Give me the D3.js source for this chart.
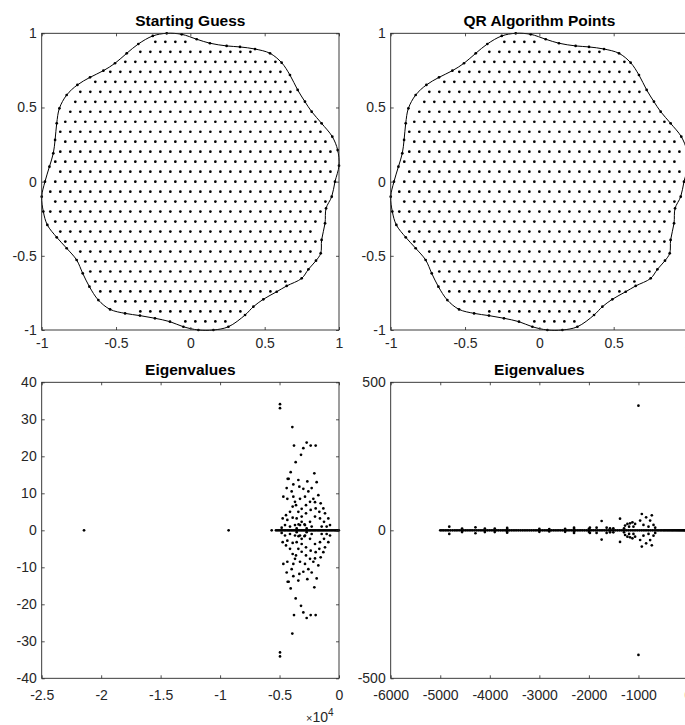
<!DOCTYPE html>
<html>
<head>
<meta charset="utf-8">
<script src="https://cdn.jsdelivr.net/npm/d3@7"></script>
<style>
  body { margin: 0; background: #fff; }
  svg { display: block; }
  text { font-family: "Liberation Sans", Arial, Helvetica, sans-serif; }
</style>
</head>
<body>
<svg id="fig" width="685" height="725"></svg>
<script>
// ---- Domain boundary (closed curve), listed counter-clockwise from the top ----
const boundaryPts = [
  [-0.159,1.0],[-0.253,0.982],[-0.35,0.928],[-0.428,0.865],[-0.507,0.798],[-0.585,0.748],
  [-0.675,0.703],[-0.76,0.652],[-0.832,0.584],[-0.881,0.494],[-0.899,0.393],[-0.91,0.281],
  [-0.922,0.191],[-0.948,0.101],[-0.978,0.0],[-1.0,-0.101],[-0.989,-0.202],[-0.962,-0.292],
  [-0.899,-0.375],[-0.832,-0.449],[-0.765,-0.528],[-0.724,-0.618],[-0.679,-0.708],[-0.619,-0.798],
  [-0.54,-0.861],[-0.439,-0.888],[-0.339,-0.903],[-0.238,-0.921],[-0.137,-0.944],[-0.047,-0.978],
  [0.054,-1.0],[0.155,-1.0],[0.256,-0.978],[0.368,-0.899],[0.424,-0.843],[0.491,-0.793],
  [0.581,-0.742],[0.648,-0.703],[0.749,-0.652],[0.794,-0.591],[0.845,-0.533],[0.877,-0.483],
  [0.883,-0.393],[0.906,-0.281],[0.913,-0.18],[0.951,-0.101],[0.973,0.0],[1.0,0.108],
  [0.991,0.213],[0.955,0.303],[0.883,0.393],[0.816,0.472],[0.771,0.539],[0.722,0.618],
  [0.67,0.719],[0.614,0.802],[0.536,0.865],[0.435,0.894],[0.334,0.908],[0.244,0.915],
  [0.132,0.933],[0.043,0.96],[-0.058,0.993]
];

// ---- Interior node lattice (staggered rows) ----
const latticeStep = 0.0673;   // spacing between nodes in a row and between rows
const latticeRows = d3.range(-15, 16);   // row indices, row 0 at y = 0
const latticeMargin = 0.022;  // nodes closer than this to the boundary are dropped

// ---- Eigenvalues of the starting-guess operator ----
const leftIsolated = [-21440, -9280, -5660];
const leftReal = [-5300,-5185,-5060,-4950,-4835,-4720,-4600,-4495,-4370,-4260,-4150,-4030,
  -3925,-3810,-3700,-3590,-3480,-3370,-3265,-3150,-3040,-2935,-2820,-2710,-2600,-2490,-2385,
  -2270,-2160,-2050,-1945,-1830,-1720,-1610,-1505,-1390,-1280,-1170,-1065,-950,-840,-735,
  -620,-510,-400,-300,-210,-130,-60,-15];
// complex eigenvalues with positive imaginary part; their conjugates are drawn too
const leftComplex = [
  [-4961,34.1],[-4961,33.0],[-3924,27.9],[-3784,22.9],[-3643,18.4],[-3195,20.4],[-2999,22.2],
  [-2719,23.7],[-2382,22.9],[-1962,22.9],[-4064,15.7],[-4316,13.9],[-4232,13.9],[-2074,15.4],
  [-1878,13.0],[-2663,13.2],[-2999,11.2],[-3335,11.8],[-3840,12.4],[-3419,13.6],[-4400,11.4],
  [-3980,10.5],[-4680,9.1],[-4344,8.5],[-3840,9.1],[-3700,7.7],[-3896,6.4],[-3615,6.8],
  [-3279,8.5],[-2859,9.1],[-2578,10.5],[-2298,11.4],[-2158,8.5],[-1738,9.5],[-1541,7.3],
  [-2018,7.6],[-2438,7.7],[-2775,6.8],[-3139,5.8],[-3419,5.0],[-4120,5.0],[-4456,4.1],
  [-4736,3.2],[-4344,2.8],[-3896,3.4],[-3559,3.2],[-3139,3.7],[-2775,4.6],[-2382,5.5],
  [-1962,5.9],[-1654,5.0],[-1317,5.9],[-1177,4.6],[-897,3.2],[-757,1.4],[-1261,2.3],
  [-1598,3.2],[-2018,3.7],[-2438,2.3],[-2859,1.4],[-3279,1.4],[-3700,1.4],[-4120,1.0],
  [-4540,1.4],[-4821,0.7],[-1457,1.0],[-1037,1.0],[-2298,1.0],
  [-3139,2.3],[-3400,1.6],[-2900,1.6],[-3560,0.5],[-2720,0.5]
];

// ---- Eigenvalues of the QR-point operator ----
const rightReal = [-5000,-4966,-4933,-4899,-4864,-4830,-4793,-4754,-4716,-4680,-4643,-4605,
  -4568,-4530,-4494,-4457,-4418,-4381,-4344,-4306,-4270,-4233,-4195,-4158,-4121,-4083,-4047,
  -4010,-3972,-3935,-3898,-3860,-3825,-3787,-3750,-3713,-3676,-3640,-3603,-3566,-3529,-3492,
  -3455,-3418,-3381,-3344,-3307,-3270,-3233,-3196,-3160,-3122,-3085,-3049,-3012,-2975,-2938,
  -2901,-2864,-2828,-2790,-2753,-2716,-2680,-2643,-2606,-2569,-2532,-2495,-2458,-2421,-2384,
  -2347,-2310,-2273,-2236,-2199,-2162,-2125,-2088,-2051,-2014,-1977,-1940,-1903,-1866,-1829,
  -1792,-1755,-1718,-1681,-1644,-1607,-1570,-1533,-1496,-1459,-1422,-1385,-1348,-1311,-1274,
  -1237,-1200,-1163,-1126,-1089,-1052,-1015,-978,-941,-904,-867,-830,-793,-756,-719,-682,
  -650,-620,-590,-560,-530,-500,-472,-445,-418,-390,-364,-338,-312,-287,-262,-238,-214,-190,
  -168,-146,-124,-103,-83,-64,-46,-30,-15,-5];
const rightComplex = [
  [-1000,421],[-1743,31.5],[-1372,39.4],[-932,55],[-730,50.7],[-845,44],[-764,33],
  [-1270,15.8],[-1223,21.4],[-1169,23.6],[-1122,27],[-1068,21.4],[-966,32.7],[-899,18],
  [-797,12.4],[-696,18],[-662,9],[-1101,12.4],[-1189,12.4],[-1291,6.8],[-1642,9],[-1574,6.8],
  [-1507,6.8],[-1845,9],[-1980,9],
  [-4818,12.4],[-4560,6],[-4290,10],[-4100,6],[-3900,6],[-3650,8],[-3650,4],[-3000,5],
  [-2800,4],[-2480,5],[-2300,9],[-2300,4],[-2000,5]
];

// ---- Axis ticks ----
const unitTicks = [-1, -0.5, 0, 0.5, 1];
const leftXTicks = [-25000, -20000, -15000, -10000, -5000, 0];
const leftYTicks = [-40, -30, -20, -10, 0, 10, 20, 30, 40];
const rightXTicks = [-6000, -5000, -4000, -3000, -2000, -1000, 0];
const rightYTicks = [-500, 0, 500];

const ink = "#262626";
const dotR = 1.35;
const svg = d3.select("#fig");
const plain = v => String(+v.toFixed(6));

function panel(o) {
  const xs = d3.scaleLinear().domain(o.xDomain).range([o.left, o.right]);
  const ys = d3.scaleLinear().domain(o.yDomain).range([o.bottom, o.top]);
  const g = svg.append("g");
  const marks = g.append("g");

  const styleAxis = sel => {
    sel.select(".domain").remove();
    sel.selectAll(".tick line").attr("stroke", ink).attr("stroke-width", 0.8);
    sel.selectAll(".tick text").attr("fill", ink).attr("font-size", 14)
      .attr("font-family", '"Liberation Sans", Arial, sans-serif');
  };
  g.append("g").attr("transform", `translate(0,${o.bottom})`)
    .call(d3.axisBottom(xs).tickValues(o.xTicks).tickFormat(o.xFmt)
      .tickSizeInner(-3).tickSizeOuter(0).tickPadding(o.xPad))
    .call(styleAxis);
  g.append("g").attr("transform", `translate(0,${o.top})`)
    .call(d3.axisTop(xs).tickValues(o.xTicks).tickFormat(() => "")
      .tickSizeInner(-3).tickSizeOuter(0))
    .call(styleAxis);
  g.append("g").attr("transform", `translate(${o.left},0)`)
    .call(d3.axisLeft(ys).tickValues(o.yTicks).tickFormat(o.yFmt)
      .tickSizeInner(-3).tickSizeOuter(0).tickPadding(o.yPad))
    .call(styleAxis);
  g.append("g").attr("transform", `translate(${o.right},0)`)
    .call(d3.axisRight(ys).tickValues(o.yTicks).tickFormat(() => "")
      .tickSizeInner(-3).tickSizeOuter(0))
    .call(styleAxis);
  g.append("rect")
    .attr("x", o.left).attr("y", o.top)
    .attr("width", o.right - o.left).attr("height", o.bottom - o.top)
    .attr("fill", "none").attr("stroke", ink).attr("stroke-width", 0.9);
  g.append("text")
    .attr("x", (o.left + o.right) / 2).attr("y", o.top - 7)
    .attr("text-anchor", "middle").attr("font-weight", "bold")
    .attr("font-size", 15.5).attr("fill", "#000").text(o.title);
  return { xs, ys, marks };
}

function dots(layer, pts, xs, ys) {
  layer.selectAll(null).data(pts).enter().append("circle")
    .attr("cx", d => xs(d[0])).attr("cy", d => ys(d[1]))
    .attr("r", dotR).attr("fill", "#000");
}

// distance from a point to the boundary polyline
function distToBoundary(p) {
  let best = Infinity;
  for (let i = 0; i < boundaryPts.length; i++) {
    const a = boundaryPts[i], b = boundaryPts[(i + 1) % boundaryPts.length];
    const vx = b[0] - a[0], vy = b[1] - a[1];
    const t = Math.max(0, Math.min(1, ((p[0] - a[0]) * vx + (p[1] - a[1]) * vy) / (vx * vx + vy * vy)));
    const dx = p[0] - (a[0] + t * vx), dy = p[1] - (a[1] + t * vy);
    best = Math.min(best, Math.hypot(dx, dy));
  }
  return best;
}

const interiorNodes = [];
latticeRows.forEach(k => {
  const y = k * latticeStep;
  const shift = (Math.abs(k) % 2 === 0) ? 0.5 : 0;
  d3.range(-16, 16).forEach(m => {
    const p = [(m + shift) * latticeStep, y];
    if (d3.polygonContains(boundaryPts, p) && distToBoundary(p) > latticeMargin) interiorNodes.push(p);
  });
});

const boundaryLine = (xs, ys) => d3.line()
  .x(d => xs(d[0])).y(d => ys(d[1]))
  .curve(d3.curveCatmullRomClosed.alpha(0.5));

function domainPanel(o) {
  const p = panel(Object.assign({
    xDomain: [-1, 1], yDomain: [-1, 1], xTicks: unitTicks, yTicks: unitTicks,
    xFmt: plain, yFmt: plain, xPad: 8, yPad: 5
  }, o));
  p.marks.append("path").datum(boundaryPts)
    .attr("d", boundaryLine(p.xs, p.ys))
    .attr("fill", "none").attr("stroke", "#000").attr("stroke-width", 1);
  dots(p.marks, boundaryPts, p.xs, p.ys);
  dots(p.marks, interiorNodes, p.xs, p.ys);
}

const L = 41.7, R = 339, L2 = 390.7, R2 = 688;
const T1 = 33.3, B1 = 330, T2 = 382.3, B2 = 678.3;

domainPanel({ left: L, right: R, top: T1, bottom: B1, title: "Starting Guess" });
domainPanel({ left: L2, right: R2, top: T1, bottom: B1, title: "QR Algorithm Points" });

// bottom-left: eigenvalues, real axis scaled by 10^4
{
  const p = panel({
    left: L, right: R, top: T2, bottom: B2, title: "Eigenvalues",
    xDomain: [-25000, 0], yDomain: [-40, 40], xTicks: leftXTicks, yTicks: leftYTicks,
    xFmt: v => plain(v / 1e4), yFmt: plain, xPad: 12, yPad: 5
  });
  const pts = leftIsolated.map(x => [x, 0])
    .concat(leftReal.map(x => [x, 0]))
    .concat(leftComplex)
    .concat(leftComplex.map(d => [d[0], -d[1]]));
  dots(p.marks, pts, p.xs, p.ys);
  const t = svg.append("text").attr("x", 306).attr("y", 722)
    .attr("font-size", 14).attr("fill", ink);
  t.append("tspan").attr("font-size", 11).text("×");
  t.append("tspan").text("10");
  t.append("tspan").attr("font-size", 10).attr("dy", -6).text("4");
}

// bottom-right: eigenvalues
{
  const p = panel({
    left: L2, right: R2, top: T2, bottom: B2, title: "Eigenvalues",
    xDomain: [-6000, 0], yDomain: [-500, 500], xTicks: rightXTicks, yTicks: rightYTicks,
    xFmt: plain, yFmt: plain, xPad: 12, yPad: 5
  });
  const pts = rightReal.map(x => [x, 0])
    .concat(rightComplex)
    .concat(rightComplex.map(d => [d[0], -d[1]]));
  dots(p.marks, pts, p.xs, p.ys);
}
</script>
</body>
</html>
